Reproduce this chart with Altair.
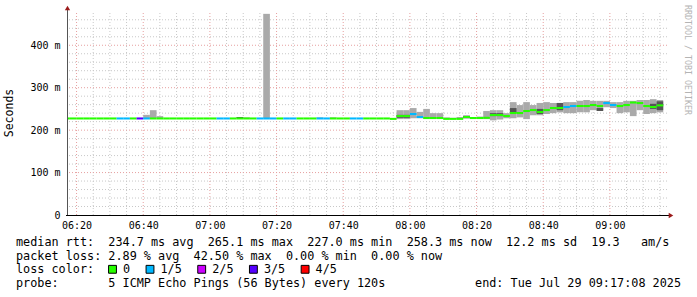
import altair as alt
import pandas as pd

NB = "\u00a0"

# ---------------- data ----------------
# start of each 2-minute step, minutes after midnight (06:16 ... 09:14)
step_min = [376 + 2 * k for k in range(90)]

median_ms = [
    227.5, 227.5, 227.5, 227.5, 227.5, 227.5, 227.5, 227.5, 227.5, 227.5,
    227.5, 227.5, 227.5, 227.5, 227.5, 227.5, 227.5, 227.5, 227.5, 227.5,
    227.5, 227.5, 227.5, 227.5, 227.5, 227.5, 227.5, 227.5, 227.5, 227.5,
    227.5, 227.5, 227.5, 227.5, 227.5, 227.5, 227.5, 227.5, 227.5, 227.5,
    227.5, 227.5, 227.5, 227.5, 227.5, 227.5, 227.5, 227.5, 227.5, 226.5,
    233.2, 233.2, 237.9, 230.9, 228.5, 228.5, 228.5, 226.5, 226.5, 226.5,
    230.9, 228.5, 228.5, 229.0, 235.6, 235.6, 233.2, 240.3, 240.3, 245.0,
    247.3, 242.6, 247.3, 252.1, 252.1, 254.4, 256.8, 256.8, 256.8, 259.1,
    256.8, 263.8, 259.1, 256.8, 259.1, 265.1, 263.8, 256.8, 254.4, 258.3,
]

loss_count = [
    0, 0, 0, 0, 0, 0, 0, 0, 1, 1,
    0, 3, 1, 0, 0, 0, 0, 0, 0, 0,
    0, 0, 0, 1, 1, 0, 0, 0, 0, 1,
    1, 1, 0, 1, 1, 0, 0, 0, 1, 1,
    0, 0, 0, 1, 1, 0, 0, 0, 0, 0,
    0, 0, 1, 1, 0, 0, 0, 0, 0, 0,
    0, 0, 0, 0, 0, 0, 0, 0, 0, 0,
    0, 0, 0, 0, 0, 1, 1, 0, 0, 0,
    0, 1, 1, 0, 0, 0, 0, 0, 0, 0,
]

smoke_lo = [
    227.5, 227.5, 227.5, 227.5, 227.5, 227.5, 227.5, 227.5, 227.5, 227.5,
    227.5, 227.5, 227.5, 227.5, 227.5, 227.5, 227.5, 227.5, 227.5, 227.5,
    227.5, 227.5, 227.5, 227.5, 227.5, 227.5, 227.5, 227.5, 227.5, 227.5,
    227.5, 227.5, 227.5, 227.5, 227.5, 227.5, 227.5, 227.5, 227.5, 227.5,
    227.5, 227.5, 227.5, 227.5, 227.5, 227.5, 227.5, 227.5, 227.5, 226.0,
    226.0, 226.0, 228.0, 228.0, 227.0, 227.0, 227.0, 226.0, 226.0, 226.0,
    228.0, 227.0, 227.0, 226.0, 223.0, 225.0, 228.0, 228.0, 230.0, 226.0,
    235.0, 235.0, 238.0, 240.0, 242.0, 240.0, 240.0, 242.0, 242.0, 247.0,
    247.0, 254.0, 252.0, 240.0, 242.0, 233.0, 247.0, 238.0, 240.0, 242.0,
]

smoke_hi = [
    227.5, 227.5, 227.5, 227.5, 227.5, 227.5, 227.5, 227.5, 227.5, 227.5,
    227.5, 227.5, 236.0, 247.0, 233.0, 227.5, 227.5, 227.5, 227.5, 227.5,
    227.5, 227.5, 227.5, 227.5, 227.5, 227.5, 231.0, 230.0, 227.5, 227.5,
    474.0, 227.5, 227.5, 227.5, 227.5, 227.5, 227.5, 227.5, 230.0, 227.5,
    230.0, 227.5, 227.5, 227.5, 227.5, 227.5, 227.5, 227.5, 227.5, 228.0,
    247.0, 247.0, 252.0, 243.0, 250.0, 240.0, 240.0, 230.0, 229.0, 231.0,
    234.0, 230.0, 232.0, 245.0, 247.0, 247.0, 240.0, 266.0, 259.0, 266.0,
    259.0, 264.0, 266.0, 264.0, 264.0, 266.0, 266.0, 269.0, 271.0, 269.0,
    269.0, 269.0, 266.0, 266.0, 269.0, 269.0, 271.0, 271.0, 273.0, 271.0,
]

dark_step = [26, 50, 51, 60, 64, 65, 67, 71, 74, 80, 88, 89]
dark_lo = [227.5, 229, 229, 228, 233, 233, 240, 238, 247, 245, 250, 247]
dark_hi = [231, 236, 236, 234, 240, 240, 252, 250, 264, 252, 262, 268]

loss_labels = ["0", "1/5", "2/5", "3/5", "4/5"]
loss_colors = ["#26ff00", "#00b8ff", "#cc00ff", "#5500ff", "#ff0000"]

x_ticks = [380, 400, 420, 440, 460, 480, 500, 520, 540]
x_tick_labels = ["06:20", "06:40", "07:00", "07:20", "07:40", "08:00", "08:20", "08:40", "09:00"]
y_ticks = [0, 100, 200, 300, 400]
y_tick_labels = ["0" + NB + NB, "100 m", "200 m", "300 m", "400 m"]

line1 = "median rtt:  234.7 ms avg  265.1 ms max  227.0 ms min  258.3 ms now  12.2 ms sd  19.3   am/s"
line2 = "packet loss: 2.89 % avg  42.50 % max  0.00 % min  0.00 % now"
line3 = "loss color:"
line4a = "probe:       5 ICMP Echo Pings (56 Bytes) every 120s"
line4b = "end: Tue Jul 29 09:17:08 2025"
side_text = "RRDTOOL / TOBI OETIKER"
y_title = "Seconds"

# ---------------- layout ----------------
x_start, x_end = 377 + 8 / 60, 557 + 8 / 60
y_top = 476
W, H = 600, 202
MONO = "DejaVu Sans Mono"
CW = 7.1  # monospace character advance at the legend font size

xs = alt.Scale(domain=[x_start, x_end], nice=False, zero=False)
ys = alt.Scale(domain=[0, y_top], nice=False, zero=True)


def nb(s):
    return s.replace(" ", NB)


def label_expr(vals, labs):
    parts = [f"datum.value == {v} ? '{nb(l)}'" for v, l in zip(vals, labs)]
    return " : ".join(parts) + " : ''"


x_axis = alt.Axis(
    values=x_ticks, labelExpr=label_expr(x_ticks, x_tick_labels), title=None,
    domain=False, ticks=False, grid=False, labelFont=MONO, labelFontSize=10,
    labelColor="#000000", labelPadding=5, labelAngle=0,
)
y_axis = alt.Axis(
    values=y_ticks, labelExpr=label_expr(y_ticks, y_tick_labels), title=None,
    domain=False, ticks=False, grid=False, labelFont=MONO, labelFontSize=10,
    labelColor="#000000", labelPadding=7,
)

x_minor = [m for m in range(380, 560, 5) if m % 20 != 0]
x_major = x_ticks
y_minor = [v for v in range(20, y_top, 20) if v % 100 != 0]
y_major = [100, 200, 300, 400]

df = pd.DataFrame({
    "t": step_min,
    "t2": [t + 2 for t in step_min],
    "med": median_ms,
    "loss": loss_count,
    "lo": smoke_lo,
    "hi": smoke_hi,
})
ddf = pd.DataFrame({
    "t": [step_min[k] for k in dark_step],
    "t2": [step_min[k] + 2 for k in dark_step],
    "lo": dark_lo,
    "hi": dark_hi,
})

minor_c, major_c = "#c8c8c8", "#e6a0a0"

vg_minor = alt.Chart(pd.DataFrame({"g": x_minor})).mark_rule(
    color=minor_c, strokeDash=[1, 2], strokeWidth=1
).encode(x=alt.X("g:Q", scale=xs, axis=x_axis))
vg_major = alt.Chart(pd.DataFrame({"g": x_major})).mark_rule(
    color=major_c, strokeDash=[1, 2], strokeWidth=1
).encode(x=alt.X("g:Q", scale=xs, axis=x_axis))
hg_minor = alt.Chart(pd.DataFrame({"g": y_minor})).mark_rule(
    color=minor_c, strokeDash=[1, 2], strokeWidth=1
).encode(y=alt.Y("g:Q", scale=ys, axis=y_axis))
hg_major = alt.Chart(pd.DataFrame({"g": y_major})).mark_rule(
    color=major_c, strokeDash=[1, 2], strokeWidth=1
).encode(y=alt.Y("g:Q", scale=ys, axis=y_axis))

smoke = alt.Chart(df).mark_rect(color="#aaaaaa", clip=True).encode(
    x=alt.X("t:Q", scale=xs, axis=x_axis), x2="t2:Q",
    y=alt.Y("lo:Q", scale=ys, axis=y_axis), y2="hi:Q",
)
dark = alt.Chart(ddf).mark_rect(color="#555555", clip=True).encode(
    x=alt.X("t:Q", scale=xs, axis=x_axis), x2="t2:Q",
    y=alt.Y("lo:Q", scale=ys, axis=y_axis), y2="hi:Q",
)
med = alt.Chart(df).transform_calculate(
    m1="datum.med - 2.4", m2="datum.med + 2.4"
).mark_rect(clip=True).encode(
    x=alt.X("t:Q", scale=xs, axis=x_axis), x2="t2:Q",
    y=alt.Y("m1:Q", scale=ys, axis=y_axis), y2="m2:Q",
    color=alt.Color("loss:O", scale=alt.Scale(domain=[0, 1, 2, 3, 4], range=loss_colors), legend=None),
)

one = pd.DataFrame({"v": [0]})
x_axis_line = alt.Chart(one).mark_rule(color="#000000", strokeWidth=1).encode(
    x=alt.value(-1), x2=alt.value(W + 3), y=alt.value(H + 0.5)
)
y_axis_line = alt.Chart(one).mark_rule(color="#555555", strokeWidth=1).encode(
    x=alt.value(0.5), y=alt.value(-4), y2=alt.value(H)
)
arrow_up = alt.Chart(one).mark_point(
    shape="triangle-up", filled=True, color="#9b1a1a", size=28, opacity=1
).encode(x=alt.value(0.5), y=alt.value(-5))
arrow_right = alt.Chart(one).mark_point(
    shape="triangle-right", filled=True, color="#9b1a1a", size=28, opacity=1
).encode(x=alt.value(W + 4), y=alt.value(H + 0.5))

FS = 11.8
LX = 16 - 67
rows_y = [241.7 - 13, 255.7 - 13, 269.3 - 13, 283.3 - 13]


def txt(s, x, y, align="left", **kw):
    return alt.Chart(one).mark_text(
        text=nb(s), align=align, baseline="middle", font=MONO, fontSize=FS,
        color="#000000", **kw
    ).encode(x=alt.value(x), y=alt.value(y))


t1 = txt(line1, LX, rows_y[0])
t2 = txt(line2, LX, rows_y[1])
t3 = txt(line3, LX, rows_y[2])
t4a = txt(line4a, LX, rows_y[3])
t4b = txt(line4b, 681 - 67, rows_y[3], align="right")

# legend entries: square then label, spaced by label length (monospace)
sq_x = []
pos = 112.5 - 67
for lab in loss_labels:
    sq_x.append(pos)
    pos += len(lab) * CW + 30.4
leg_df = pd.DataFrame({"lab": loss_labels, "col": loss_colors, "sx": sq_x,
                       "tx": [p + 10.5 for p in sq_x]})
leg_sq = alt.Chart(leg_df).mark_square(
    size=62, filled=True, stroke="#000000", strokeWidth=1, opacity=1
).encode(
    x=alt.X("sx:Q", scale=None),
    y=alt.value(rows_y[2]),
    fill=alt.Fill("col:N", scale=None),
)
leg_tx = alt.Chart(leg_df).mark_text(
    align="left", baseline="middle", font=MONO, fontSize=FS, color="#000000"
).encode(
    x=alt.X("tx:Q", scale=None),
    y=alt.value(rows_y[2]),
    text="lab:N",
)

side = alt.Chart(one).mark_text(
    text=side_text, angle=90, align="left", baseline="middle", font=MONO,
    fontSize=8.3, color="#b4b4b4",
).encode(x=alt.value(686.5 - 67), y=alt.value(5 - 13))

ytitle = alt.Chart(one).mark_text(
    text=y_title, angle=270, align="center", baseline="middle", font=MONO,
    fontSize=11.5, color="#000000",
).encode(x=alt.value(10 - 67), y=alt.value(113 - 13))

chart = alt.layer(
    vg_minor, hg_minor, vg_major, hg_major,
    smoke, dark, med,
    x_axis_line, y_axis_line, arrow_up, arrow_right,
    t1, t2, t3, t4a, t4b, leg_sq, leg_tx, side, ytitle,
).properties(
    width=W, height=H,
    padding={"left": 67, "top": 13, "right": 697 - 67 - W, "bottom": 297 - 13 - H},
    autosize=alt.AutoSizeParams(type="none"),
    background="#ffffff",
).configure_view(stroke=None)

chart.save("out.html", embed_options={"renderer": "svg", "actions": False})
